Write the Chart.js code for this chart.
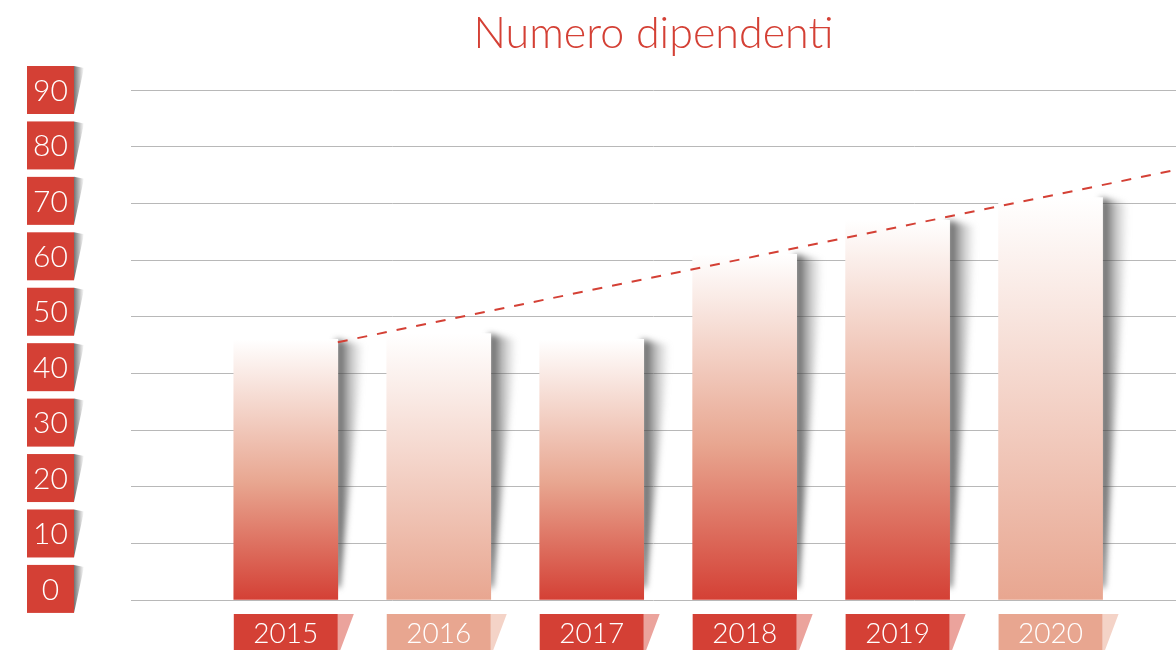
<!DOCTYPE html>
<html lang="it">
<head>
<meta charset="utf-8">
<title>Numero dipendenti</title>
<script src="https://cdn.jsdelivr.net/npm/chart.js@4/dist/chart.umd.min.js"></script>
<style>
  html, body { margin: 0; padding: 0; background: #ffffff; }
  #wrap { width: 1176px; height: 650px; position: relative; }
</style>
</head>
<body>
<div id="wrap"><canvas id="dipendentiChart" width="1176" height="650"></canvas></div>
<script>
// Chart data
const years = ['2015', '2016', '2017', '2018', '2019', '2020'];
const employees = [46, 47, 46, 61, 67, 71];
const yTicks = [0, 10, 20, 30, 40, 50, 60, 70, 80, 90];
// dashed trend line: start / end (x in year index, y in employees)
const trendX = [0.34, 5.82];
const trendY = [45.5, 75.9];

const RED = '#d44035';
const SALMON = '#e8a690';
const barColors = [RED, SALMON, RED, RED, RED, SALMON];
const tabColors = ['#eba39c', '#f4d3c7', '#eba39c', '#eba39c', '#eba39c', '#f4d3c7'];
const FONT = 'Lato, "Open Sans", sans-serif';

// gradient: white at the top of the bar down to the bar colour at the axis
function barGradient(context) {
    const chart = context.chart;
    const i = context.dataIndex;
    if (!chart.chartArea || context.type !== 'data') return barColors[i];
    const yScale = chart.scales.y;
    const top = yScale.getPixelForValue(employees[i]);
    const bottom = yScale.getPixelForValue(0);
    const g = chart.ctx.createLinearGradient(0, top, 0, bottom);
    g.addColorStop(0, '#ffffff');
    if (barColors[i] === RED) {
        g.addColorStop(0.55, SALMON);
        g.addColorStop(1, RED);
    } else {
        g.addColorStop(1, SALMON);
    }
    return g;
}

// soft slanted shadow to the right of each bar
const barShadows = {
    id: 'barShadows',
    beforeDatasetsDraw(chart) {
        const ctx = chart.ctx;
        const meta = chart.getDatasetMeta(0);
        ctx.save();
        ctx.filter = 'blur(3px)';
        meta.data.forEach(bar => {
            const right = bar.x + bar.width / 2;
            const top = bar.y;
            const bottom = bar.base;
            const g = ctx.createLinearGradient(right, 0, right + 26, 0);
            g.addColorStop(0, 'rgba(60,60,60,0.85)');
            g.addColorStop(0.5, 'rgba(90,90,90,0.35)');
            g.addColorStop(1, 'rgba(120,120,120,0)');
            ctx.fillStyle = g;
            ctx.beginPath();
            ctx.moveTo(right - 2, top);
            ctx.lineTo(right + 26, top + 6);
            ctx.lineTo(right + 2, bottom - 12);
            ctx.lineTo(right - 2, bottom - 12);
            ctx.closePath();
            ctx.fill();
        });
        ctx.restore();
    }
};

// title, y tick boxes and year boxes
const decorations = {
    id: 'decorations',
    afterDraw(chart) {
        const ctx = chart.ctx;
        const area = chart.chartArea;
        ctx.save();

        // title
        ctx.fillStyle = RED;
        ctx.font = '300 43px ' + FONT;
        ctx.textAlign = 'center';
        ctx.textBaseline = 'alphabetic';
        ctx.fillText('Numero dipendenti', (area.left + area.right) / 2, 48);

        // y tick boxes
        const labScale = chart.scales.yLab;
        yTicks.forEach(v => {
            const cy = labScale.getPixelForValue(v);
            const top = cy - 24, h = 48, left = 27, w = 47;
            const sg = ctx.createLinearGradient(left + w, 0, left + w + 10, 0);
            sg.addColorStop(0, 'rgba(80,80,80,0.8)');
            sg.addColorStop(1, 'rgba(80,80,80,0)');
            ctx.fillStyle = sg;
            ctx.beginPath();
            ctx.moveTo(left + w, top);
            ctx.lineTo(left + w + 10, top + 2);
            ctx.lineTo(left + w, top + h);
            ctx.closePath();
            ctx.fill();
            ctx.fillStyle = RED;
            ctx.fillRect(left, top, w, h);
            ctx.fillStyle = '#ffffff';
            ctx.font = '300 30px ' + FONT;
            ctx.textAlign = 'center';
            ctx.textBaseline = 'middle';
            ctx.fillText(String(v), left + w / 2, cy + 1);
        });

        // year boxes under the bars
        const meta = chart.getDatasetMeta(0);
        meta.data.forEach((bar, i) => {
            const left = bar.x - bar.width / 2;
            const right = bar.x + bar.width / 2;
            const top = area.bottom + 14;
            const bottom = chart.height + 4;
            ctx.fillStyle = tabColors[i];
            ctx.beginPath();
            ctx.moveTo(right, top);
            ctx.lineTo(right + 16, top);
            ctx.lineTo(right + 1, bottom);
            ctx.lineTo(right, bottom);
            ctx.closePath();
            ctx.fill();
            ctx.fillStyle = barColors[i];
            ctx.fillRect(left, top, right - left, bottom - top);
            ctx.fillStyle = '#ffffff';
            ctx.font = '300 28px ' + FONT;
            ctx.textAlign = 'center';
            ctx.textBaseline = 'middle';
            ctx.fillText(years[i], bar.x, top + 20);
        });

        ctx.restore();
    }
};

document.addEventListener('DOMContentLoaded', () => {
    const canvas = document.getElementById('dipendentiChart');
    const ctx = canvas.getContext('2d');

    new Chart(ctx, {
        data: {
            datasets: [{
                type: 'bar',
                data: years.map((y, i) => ({ x: i, y: employees[i] })),
                backgroundColor: barGradient,
                borderWidth: 0,
                barThickness: 104,
                order: 2
            }, {
                type: 'line',
                data: trendX.map((x, i) => ({ x: x, y: trendY[i] })),
                borderColor: RED,
                borderWidth: 2,
                borderDash: [10, 10],
                pointRadius: 0,
                fill: false,
                order: 1
            }]
        },
        options: {
            responsive: false,
            animation: false,
            layout: { padding: { left: 131, right: 0, top: 90, bottom: 50 } },
            scales: {
                x: {
                    type: 'linear',
                    min: -1.012,
                    max: 5.82,
                    offset: false,
                    display: false
                },
                y: {
                    min: 0,
                    max: 90,
                    ticks: { display: false, stepSize: 10 },
                    grid: { color: '#b8b8b8', lineWidth: 1, drawTicks: false, tickLength: 0 },
                    border: { display: false }
                },
                // hidden helper scale used to place the tick boxes
                yLab: {
                    position: 'left',
                    min: -2,
                    max: 90,
                    display: false
                }
            },
            plugins: {
                legend: { display: false },
                tooltip: { enabled: false },
                title: { display: false }
            }
        },
        plugins: [barShadows, decorations]
    });
});
</script>
</body>
</html>
